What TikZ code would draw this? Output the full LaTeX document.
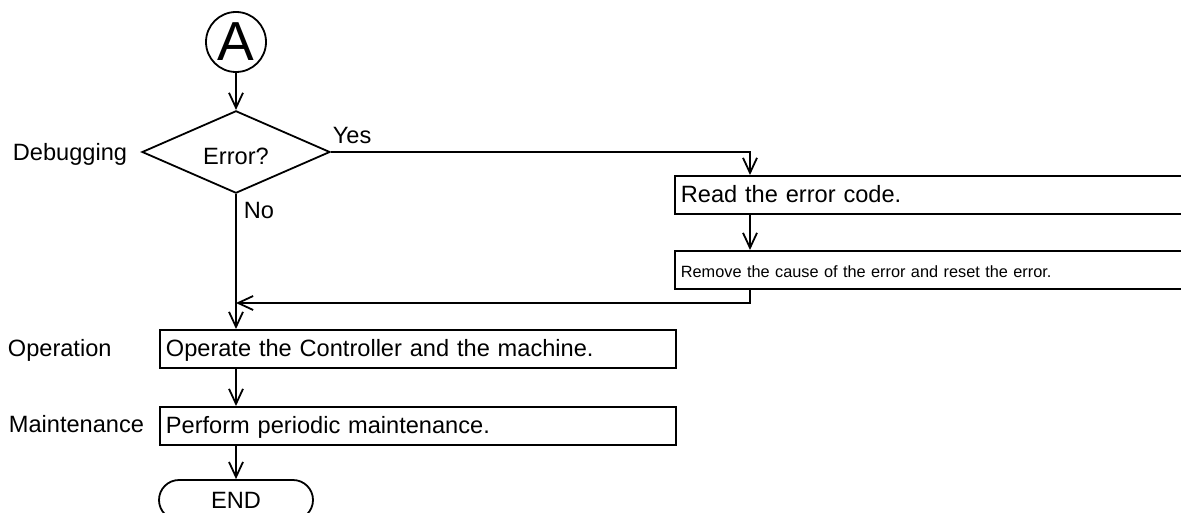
\documentclass[tikz,border=0pt]{standalone}
\usepackage{fontspec}
\setmainfont{Liberation Sans}
\usetikzlibrary{shapes.geometric,arrows.meta}

\begin{document}
\begin{tikzpicture}[x=0.5pt,y=-0.5pt,
  font=\fontsize{11.8}{14}\selectfont,
  line width=0.9pt,
  flow/.style={-{Straight Barb[length=7.5pt,width=7pt]}},
  stepbox/.style={draw,rectangle,anchor=north west,minimum height=19pt,
    text width=252pt,inner sep=3pt,align=left,text height=9pt,text depth=1.5pt},
  lbl/.style={anchor=base west,inner sep=0pt}]
%\draw[help lines] (0,0) grid (1181,513);
\path[use as bounding box,clip] (0,0) rectangle (1181,513);

% start and decision
\node[draw,circle,minimum size=30pt,inner sep=0pt,font=\fontsize{27.5}{29}\selectfont] (conA) at (236,42) {A};
\node[draw,diamond,minimum width=94pt,minimum height=41pt,inner sep=0pt] (err) at (236,152) {\raisebox{-2pt}[8.4pt][0pt]{Error?}};
\node[lbl] (dbg) at (12,161) {Debugging};

% error branch
\node[stepbox] (read) at (674,175) {Read the error code.};
\node[stepbox,font=\fontsize{8.15}{10}\selectfont] (remove) at (674,250) {Remove the cause of the error and reset the error.};
\coordinate (back) at (236,303);

% normal flow
\node[stepbox] (oper) at (159,329) {Operate the Controller and the machine.};
\node[stepbox] (maint) at (159,406) {Perform periodic maintenance.};
\node[draw,rounded corners=10pt,minimum width=77pt,minimum height=20pt,inner sep=0pt] (finish) at (236,500) {END};
\node[lbl] (opl) at (7,356) {Operation};
\node[lbl] (mtl) at (8,432) {Maintenance};

\draw[flow] (conA) -- (err);
\draw[flow] (err.east) -| ([xshift=38pt]read.north west);
\node[lbl] (yes) at (332,144) {Yes};
\node[lbl] (no) at (243,219) {No};
\draw[flow] ([xshift=38pt]read.south west) -- ([xshift=38pt]remove.north west);
\draw[flow] ([xshift=38pt]remove.south west) |- (back);
\draw[flow] (err.south) -- ([xshift=38.5pt]oper.north west);
\draw[flow] ([xshift=38.5pt]oper.south west) -- ([xshift=38.5pt]maint.north west);
\draw[flow] ([xshift=38.5pt]maint.south west) -- (finish);

\end{tikzpicture}
\end{document}
